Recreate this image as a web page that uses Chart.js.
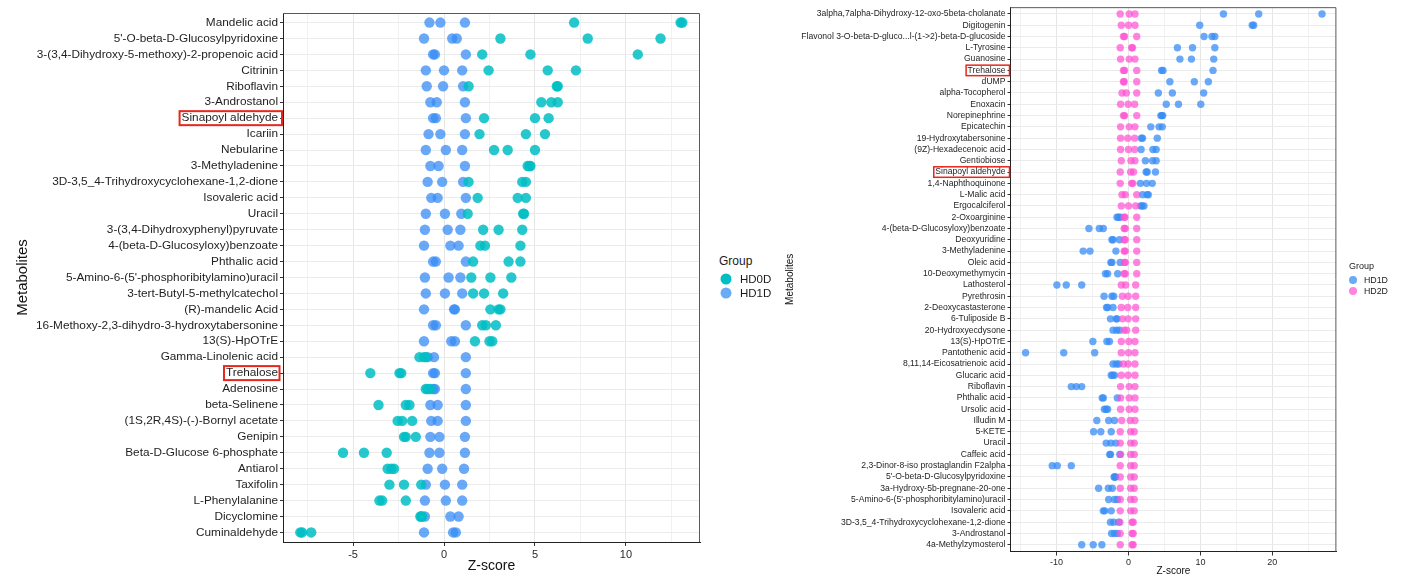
<!DOCTYPE html>
<html>
<head>
<meta charset="utf-8">
<script src="https://cdn.jsdelivr.net/npm/chart.js@4/dist/chart.umd.min.js"></script>
<style>
  html, body { margin: 0; padding: 0; background: #ffffff; }
  body { width: 1402px; height: 581px; overflow: hidden; position: relative;
         font-family: "Liberation Sans", Arial, Helvetica, sans-serif; color: #1a1a1a; }
  canvas { position: absolute; top: 0; }
  #leftChart { left: 0; }
  #rightChart { left: 760px; }
  .lg { position: absolute; white-space: nowrap; transform: translateY(-50%); }
  .dot { position: absolute; border-radius: 50%; transform: translate(-50%, -50%); }
</style>
</head>
<body>
<canvas id="leftChart" width="712" height="581"></canvas>
<canvas id="rightChart" width="642" height="581"></canvas>

<div class="lg" style="left:719px;top:261px;font-size:12px;">Group</div>
<div class="dot" style="left:726px;top:279px;width:11px;height:11px;background:#00BEC4;"></div>
<div class="lg" style="left:740px;top:279px;font-size:11.5px;">HD0D</div>
<div class="dot" style="left:726px;top:293px;width:11px;height:11px;background:#6AABF8;"></div>
<div class="lg" style="left:740px;top:293px;font-size:11.5px;">HD1D</div>

<div class="lg" style="left:1349px;top:266px;font-size:9px;">Group</div>
<div class="dot" style="left:1353px;top:280px;width:8px;height:8px;background:#6AABF8;"></div>
<div class="lg" style="left:1364px;top:280px;font-size:8.8px;">HD1D</div>
<div class="dot" style="left:1353px;top:291px;width:8px;height:8px;background:#FF84E0;"></div>
<div class="lg" style="left:1364px;top:291px;font-size:8.8px;">HD2D</div>

<script>
// ---- Panel A: HD0D vs HD1D (three replicates per metabolite) ----
const leftNames = [
  "Mandelic acid",
  "5'-O-beta-D-Glucosylpyridoxine",
  "3-(3,4-Dihydroxy-5-methoxy)-2-propenoic acid",
  "Citrinin",
  "Riboflavin",
  "3-Androstanol",
  "Sinapoyl aldehyde",
  "Icariin",
  "Nebularine",
  "3-Methyladenine",
  "3D-3,5_4-Trihydroxycyclohexane-1,2-dione",
  "Isovaleric acid",
  "Uracil",
  "3-(3,4-Dihydroxyphenyl)pyruvate",
  "4-(beta-D-Glucosyloxy)benzoate",
  "Phthalic acid",
  "5-Amino-6-(5'-phosphoribitylamino)uracil",
  "3-tert-Butyl-5-methylcatechol",
  "(R)-mandelic Acid",
  "16-Methoxy-2,3-dihydro-3-hydroxytabersonine",
  "13(S)-HpOTrE",
  "Gamma-Linolenic acid",
  "Trehalose",
  "Adenosine",
  "beta-Selinene",
  "(1S,2R,4S)-(-)-Bornyl acetate",
  "Genipin",
  "Beta-D-Glucose 6-phosphate",
  "Antiarol",
  "Taxifolin",
  "L-Phenylalanine",
  "Dicyclomine",
  "Cuminaldehyde"
];

const leftHD0D = [
  [7.15, 13.0, 13.1],
  [3.1, 7.9, 11.9],
  [2.1, 4.75, 10.65],
  [2.45, 5.7, 7.25],
  [1.35, 6.2, 6.25],
  [5.35, 5.9, 6.25],
  [2.2, 5.0, 5.75],
  [1.95, 4.5, 5.55],
  [2.75, 3.5, 5.0],
  [4.6, 4.7, 4.75],
  [1.35, 4.3, 4.5],
  [1.85, 4.05, 4.5],
  [1.3, 4.35, 4.4],
  [2.15, 3.0, 4.3],
  [2.0, 2.25, 4.2],
  [1.6, 3.55, 4.2],
  [1.5, 2.55, 3.7],
  [1.6, 2.2, 3.25],
  [2.55, 3.0, 3.1],
  [2.1, 2.3, 2.85],
  [1.7, 2.5, 2.65],
  [-1.35, -1.1, -1.0],
  [-4.05, -2.45, -2.35],
  [-1.0, -0.9, -0.75],
  [-3.6, -2.1, -1.9],
  [-2.55, -2.3, -1.75],
  [-2.2, -2.1, -1.55],
  [-5.55, -4.4, -3.15],
  [-3.1, -2.9, -2.75],
  [-3.0, -2.2, -1.25],
  [-3.55, -3.4, -2.1],
  [-1.3, -1.25, -1.2],
  [-7.9, -7.8, -7.3]
];

const leftHD1D = [
  [-0.8, -0.2, 1.15],
  [-1.1, 0.45, 0.7],
  [-0.6, -0.5, 1.2],
  [-1.0, 0.0, 1.0],
  [-0.95, -0.05, 1.05],
  [-0.75, -0.4, 1.15],
  [-0.6, -0.45, 1.2],
  [-0.85, -0.2, 1.15],
  [-1.0, 0.1, 1.0],
  [-0.75, -0.3, 1.15],
  [-0.9, -0.1, 1.05],
  [-0.7, -0.35, 1.2],
  [-1.0, 0.05, 0.95],
  [-1.05, 0.2, 0.9],
  [-1.1, 0.35, 0.8],
  [-0.6, -0.45, 1.2],
  [-1.05, 0.25, 0.9],
  [-1.0, 0.05, 1.0],
  [-1.1, 0.55, 0.6],
  [-0.6, -0.45, 1.2],
  [-1.1, 0.4, 0.6],
  [-0.9, -0.55, 1.2],
  [-0.6, -0.5, 1.2],
  [-0.6, -0.5, 1.2],
  [-0.75, -0.35, 1.2],
  [-0.7, -0.35, 1.2],
  [-0.75, -0.25, 1.15],
  [-0.8, -0.25, 1.15],
  [-0.9, -0.1, 1.1],
  [-1.0, 0.05, 1.0],
  [-1.05, 0.1, 1.0],
  [-1.05, 0.35, 0.8],
  [-1.1, 0.5, 0.65]
];

const leftTicks = [-7.5, -5, -2.5, 0, 2.5, 5, 7.5, 10, 12.5];

// ---- Panel B: HD1D vs HD2D ----
const rightNames = [
  "3alpha,7alpha-Dihydroxy-12-oxo-5beta-cholanate",
  "Digitogenin",
  "Flavonol 3-O-beta-D-gluco...l-(1->2)-beta-D-glucoside",
  "L-Tyrosine",
  "Guanosine",
  "Trehalose",
  "dUMP",
  "alpha-Tocopherol",
  "Enoxacin",
  "Norepinephrine",
  "Epicatechin",
  "19-Hydroxytabersonine",
  "(9Z)-Hexadecenoic acid",
  "Gentiobiose",
  "Sinapoyl aldehyde",
  "1,4-Naphthoquinone",
  "L-Malic acid",
  "Ergocalciferol",
  "2-Oxoarginine",
  "4-(beta-D-Glucosyloxy)benzoate",
  "Deoxyuridine",
  "3-Methyladenine",
  "Oleic acid",
  "10-Deoxymethymycin",
  "Lathosterol",
  "Pyrethrosin",
  "2-Deoxycastasterone",
  "6-Tuliposide B",
  "20-Hydroxyecdysone",
  "13(S)-HpOTrE",
  "Pantothenic acid",
  "8,11,14-Eicosatrienoic acid",
  "Glucaric acid",
  "Riboflavin",
  "Phthalic acid",
  "Ursolic acid",
  "Illudin M",
  "5-KETE",
  "Uracil",
  "Caffeic acid",
  "2,3-Dinor-8-iso prostaglandin F2alpha",
  "5'-O-beta-D-Glucosylpyridoxine",
  "3a-Hydroxy-5b-pregnane-20-one",
  "5-Amino-6-(5'-phosphoribitylamino)uracil",
  "Isovaleric acid",
  "3D-3,5_4-Trihydroxycyclohexane-1,2-dione",
  "3-Androstanol",
  "4a-Methylzymosterol"
];

const rightHD1D = [
  [13.2, 18.1, 26.9],
  [9.9, 17.2, 17.4],
  [10.5, 11.6, 12.0],
  [6.8, 8.9, 12.0],
  [7.15, 8.75, 11.85],
  [4.6, 4.8, 11.75],
  [5.75, 9.15, 11.1],
  [4.15, 6.1, 10.45],
  [5.25, 6.95, 10.05],
  [4.5, 4.65, 4.75],
  [3.1, 4.25, 4.7],
  [1.8, 1.95, 4.0],
  [1.75, 3.4, 3.85],
  [2.35, 3.35, 3.85],
  [2.45, 2.6, 3.75],
  [1.65, 2.5, 3.3],
  [1.95, 2.6, 2.75],
  [1.7, 1.9, 2.15],
  [-1.6, -1.4, -1.15],
  [-5.5, -4.05, -3.5],
  [-2.3, -2.15, -1.25],
  [-6.3, -5.35, -1.75],
  [-2.45, -2.3, -1.15],
  [-3.2, -2.9, -1.5],
  [-9.95, -8.65, -6.5],
  [-3.4, -2.3, -2.05],
  [-3.05, -2.9, -2.15],
  [-2.5, -1.7, -1.6],
  [-2.15, -1.65, -1.25],
  [-4.95, -3.0, -2.65],
  [-14.3, -9.0, -4.7],
  [-2.15, -1.7, -1.35],
  [-2.4, -2.2, -1.95],
  [-7.95, -7.25, -6.5],
  [-3.65, -3.5, -1.55],
  [-3.35, -3.1, -2.9],
  [-4.4, -2.75, -1.95],
  [-4.85, -3.85, -2.4],
  [-3.1, -2.45, -1.75],
  [-2.6, -2.5, -1.2],
  [-10.6, -9.9, -7.95],
  [-2.0, -1.9, -1.8],
  [-4.15, -2.8, -2.25],
  [-2.75, -1.95, -1.55],
  [-3.5, -3.3, -2.4],
  [-2.5, -2.05, -1.35],
  [-2.35, -1.95, -1.55],
  [-6.5, -4.9, -3.7]
];

const rightHD2D = [
  [-1.15, 0.1, 0.9],
  [-1.0, 0.0, 0.9],
  [-0.7, -0.55, 1.15],
  [-1.15, 0.45, 0.55],
  [-1.1, 0.1, 0.9],
  [-0.7, -0.55, 1.15],
  [-0.7, -0.6, 1.15],
  [-0.9, -0.3, 1.15],
  [-1.1, -0.05, 0.85],
  [-0.7, -0.55, 1.15],
  [-1.1, 0.1, 0.9],
  [-1.1, -0.1, 0.85],
  [-1.1, 0.0, 0.85],
  [-1.0, 0.35, 0.9],
  [-1.15, 0.3, 0.7],
  [-1.15, 0.45, 0.6],
  [-0.9, -0.45, 1.15],
  [-1.0, 0.0, 1.0],
  [-0.6, -0.5, 1.15],
  [-0.6, -0.45, 1.15],
  [-0.6, -0.45, 1.15],
  [-0.6, -0.45, 1.15],
  [-0.55, -0.45, 1.15],
  [-0.6, -0.45, 1.15],
  [-1.0, -0.4, 1.0],
  [-0.85, -0.05, 1.0],
  [-1.0, -0.1, 1.0],
  [-0.85, -0.05, 1.0],
  [-0.6, -0.25, 1.0],
  [-1.0, 0.05, 0.9],
  [-1.0, 0.0, 0.9],
  [-0.7, -0.05, 0.9],
  [-1.0, -0.05, 0.9],
  [-1.1, 0.1, 0.9],
  [-1.1, 0.1, 0.9],
  [-1.1, 0.1, 0.9],
  [-0.95, 0.25, 0.9],
  [-1.15, 0.3, 0.8],
  [-1.15, 0.3, 0.8],
  [-1.1, 0.3, 0.8],
  [-1.15, 0.3, 0.8],
  [-1.15, 0.3, 0.8],
  [-1.15, 0.3, 0.8],
  [-1.15, 0.3, 0.8],
  [-1.15, 0.3, 0.8],
  [-1.2, 0.5, 0.65],
  [-1.15, 0.5, 0.65],
  [-1.15, 0.5, 0.65]
];

const rightTicks = [-15, -10, -5, 0, 5, 10, 15, 20, 25];

// metabolite labels outlined in red on each panel
const leftHighlights = [
  { name: "Sinapoyl aldehyde", toAxis: true },
  { name: "Trehalose", toAxis: false }
];
const rightHighlights = [
  { name: "Trehalose", toAxis: true },
  { name: "Sinapoyl aldehyde", toAxis: true }
];

const COLORS = {
  teal: 'rgba(0, 190, 196, 0.85)',
  blue: 'rgba(55, 140, 245, 0.75)',
  pink: 'rgba(255, 80, 210, 0.7)'
};

function toPoints(rows) {
  const pts = [];
  rows.forEach((vals, i) => vals.forEach(v => pts.push({ x: v, y: i })));
  return pts;
}

// frame around the panel plus red label outlines
function panelPlugin(highlights, names, boxStyle) {
  return {
    id: 'panelFrame',
    afterDraw(chart) {
      const { ctx, chartArea: a, scales } = chart;
      ctx.save();
      ctx.strokeStyle = '#5a5a5a';
      ctx.lineWidth = 1;
      ctx.beginPath();
      ctx.moveTo(a.left, a.top + 0.5);
      ctx.lineTo(a.right - 0.5, a.top + 0.5);
      ctx.lineTo(a.right - 0.5, a.bottom);
      ctx.stroke();

      const ys = scales.y;
      const f = ys.options.ticks.font;
      ctx.font = f.size + 'px ' + f.family;
      const textRight = ys.right - ys.options.grid.tickLength - ys.options.ticks.padding;
      ctx.strokeStyle = '#e8261c';
      ctx.lineWidth = boxStyle.lw;
      highlights.forEach(h => {
        const idx = names.indexOf(h.name);
        if (idx < 0) return;
        const yc = ys.getPixelForValue(idx);
        const w = ctx.measureText(h.name).width;
        const x0 = textRight - w - boxStyle.padL;
        const x1 = h.toAxis ? ys.right - 1 : textRight + 1.5;
        ctx.strokeRect(x0, yc - boxStyle.h / 2, x1 - x0, boxStyle.h);
      });
      ctx.restore();
    }
  };
}

function buildChart(canvasId, cfg) {
  const n = cfg.names.length;
  return new Chart(document.getElementById(canvasId), {
    type: 'scatter',
    data: {
      datasets: cfg.series.map(s => ({
        label: s.label,
        data: toPoints(s.values),
        backgroundColor: s.color,
        borderWidth: 0,
        pointRadius: cfg.radius,
        pointHoverRadius: cfg.radius
      }))
    },
    options: {
      responsive: false,
      animation: false,
      events: [],
      layout: { padding: cfg.padding },
      plugins: { legend: { display: false }, tooltip: { enabled: false } },
      scales: {
        x: {
          type: 'linear',
          min: cfg.xMin,
          max: cfg.xMax,
          afterBuildTicks: s => { s.ticks = cfg.xTicks.map(v => ({ value: v })); },
          afterFit: s => { s.height = cfg.xAxisHeight; },
          grid: {
            color: c => (c.tick && c.tick.value % cfg.xMajor === 0) ? '#e6e6e6' : '#f1f1f1',
            tickColor: c => (c.tick && c.tick.value % cfg.xMajor === 0) ? '#333333' : 'rgba(0,0,0,0)',
            tickLength: 4,
            lineWidth: 1
          },
          border: { display: true, color: '#222222', width: 1 },
          ticks: {
            autoSkip: false,
            maxRotation: 0,
            padding: 2,
            color: '#2a2a2a',
            font: { family: 'Liberation Sans', size: cfg.tickFont },
            callback: v => (v % cfg.xMajor === 0) ? String(v) : ''
          },
          title: {
            display: true,
            text: 'Z-score',
            color: '#111111',
            font: { family: 'Liberation Sans', size: cfg.titleFont },
            padding: { top: 0, bottom: cfg.xTitlePad }
          }
        },
        y: {
          type: 'linear',
          reverse: true,
          min: -0.6,
          max: n - 0.4,
          afterBuildTicks: s => { s.ticks = cfg.names.map((_, i) => ({ value: i })); },
          afterFit: s => { s.width = cfg.yAxisWidth; },
          grid: { color: '#ebebeb', tickColor: '#333333', tickLength: 3, lineWidth: 1 },
          border: { display: true, color: '#222222', width: 1 },
          ticks: {
            autoSkip: false,
            padding: 2,
            color: '#1e1e1e',
            font: { family: 'Liberation Sans', size: cfg.labelFont },
            callback: v => cfg.names[v]
          },
          title: {
            display: true,
            text: 'Metabolites',
            color: '#111111',
            font: { family: 'Liberation Sans', size: cfg.yTitleFont },
            padding: { top: cfg.yTitlePad, bottom: 0 }
          }
        }
      }
    },
    plugins: [panelPlugin(cfg.highlights, cfg.names, cfg.box)]
  });
}

buildChart('leftChart', {
  names: leftNames,
  series: [
    { label: 'HD0D', values: leftHD0D, color: COLORS.teal },
    { label: 'HD1D', values: leftHD1D, color: COLORS.blue }
  ],
  radius: 5.2,
  padding: { top: 13, right: 12, bottom: 0, left: 0 },
  xMin: -8.85, xMax: 14.07, xTicks: leftTicks, xMajor: 5,
  xAxisHeight: 39, yAxisWidth: 283,
  tickFont: 11, labelFont: 11.8, titleFont: 14, yTitleFont: 15,
  xTitlePad: 6, yTitlePad: 14,
  highlights: leftHighlights,
  box: { h: 14, lw: 2, padL: 2 }
});

buildChart('rightChart', {
  names: rightNames,
  series: [
    { label: 'HD2D', values: rightHD2D, color: COLORS.pink },
    { label: 'HD1D', values: rightHD1D, color: COLORS.blue }
  ],
  radius: 3.7,
  padding: { top: 6, right: 65.6, bottom: 0, left: 0 },
  xMin: -16.4, xMax: 28.9, xTicks: rightTicks, xMajor: 10,
  xAxisHeight: 29.5, yAxisWidth: 250.5,
  tickFont: 9, labelFont: 8.6, titleFont: 10, yTitleFont: 10,
  xTitlePad: 4, yTitlePad: 24.5,
  highlights: rightHighlights,
  box: { h: 10.5, lw: 1.5, padL: 1.5 }
});
</script>
</body>
</html>
